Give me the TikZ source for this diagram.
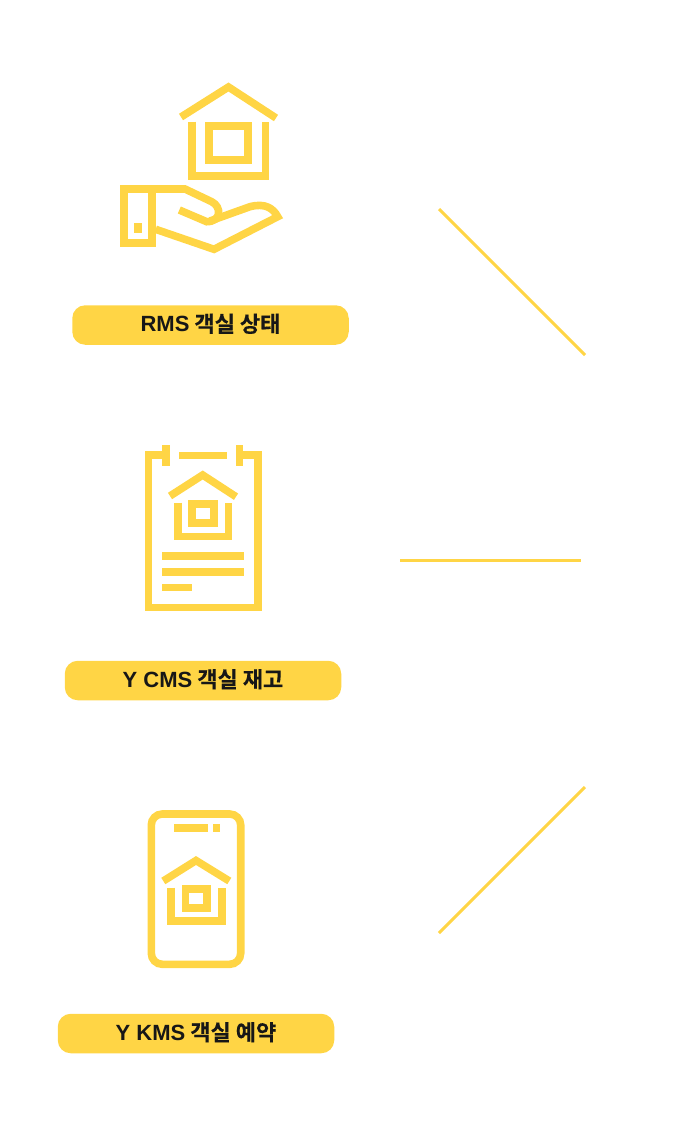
\documentclass[tikz,border=0pt]{standalone}
\usepackage{fontspec}
\setmainfont[BoldFont={Noto Sans CJK KR Bold},BoldFeatures={FakeBold=0.25}]{Noto Sans CJK KR}
\newfontfamily\latinbold{Liberation Sans Bold}
\definecolor{roomyellow}{HTML}{FFD545}
\definecolor{pilltext}{HTML}{171717}
\tikzset{
  iconline/.style={draw=roomyellow, line width=7.6pt, line join=miter},
  linkline/.style={draw=roomyellow, line width=3pt},
  iconbar/.style={fill=roomyellow, draw=none},
  pill/.style={fill=roomyellow, rounded corners=13pt, minimum width=276.5pt, minimum height=39.5pt,
    inner sep=0pt, text=pilltext, font=\fontsize{22pt}{24pt}\bfseries},
}
\begin{document}
\begin{tikzpicture}[x=1pt,y=-1pt]
  \useasboundingbox (0,0) rectangle (674,1136);
  % first icon, house above a hand
  \draw[iconline] (181,117) -- (228.5,87) -- (276,118);
  \draw[iconline] (192,121.7) -- (192,176) -- (265.3,176) -- (265.3,121.7);
  \draw[iconline] (209,126) rectangle (247.7,160);
  \draw[iconline] (124,189) rectangle (151.7,242.7);
  \fill[iconbar] (134,222.7) rectangle (142,232.7);
  \draw[iconline] (151.7,189) -- (185,189) -- (211.7,201.7) .. controls (221.7,206.7) and (221.7,221.7) .. (206.7,221.7) -- (179.3,210);
  \draw[iconline] (210,221) -- (250,206.7) .. controls (265,202.7) and (273.3,208.3) .. (277.7,216.7) -- (214,249.3) -- (155.7,229.3);
  % second icon, clipboard
  \draw[iconline] (162.3,455) -- (148.3,455) -- (148.3,607.3) -- (257.7,607.3) -- (257.7,455) -- (243.3,455);
  \fill[iconbar] (162.3,445) rectangle (170.3,465.7);
  \fill[iconbar] (236,445) rectangle (243.3,465.7);
  \fill[iconbar] (178.7,451.7) rectangle (227.3,459.3);
  \draw[iconline] (170,496) -- (202.7,475) -- (236,496.7);
  \draw[iconline] (177.8,502.7) -- (177.8,536.5) -- (228.5,536.5) -- (228.5,502.7);
  \draw[iconline] (192.2,503.8) rectangle (213.8,523.2);
  \fill[iconbar] (162,552) rectangle (244,559.7);
  \fill[iconbar] (162,568) rectangle (244,575.7);
  \fill[iconbar] (162,583.7) rectangle (192.3,591.3);
  % third icon, phone
  \draw[iconline, rounded corners=11pt] (151.3,814) rectangle (240.7,964.3);
  \fill[iconbar] (174.3,824.3) rectangle (207.7,832.3);
  \fill[iconbar] (213.3,824.3) rectangle (220,832.3);
  \draw[iconline] (163.3,881) -- (196,860.5) -- (229.3,881);
  \draw[iconline] (171,887.7) -- (171,921.2) -- (221.7,921.2) -- (221.7,887.7);
  \draw[iconline] (185.5,889.2) rectangle (207.2,907.8);
  % labels
  \node[pill] (rmsstate) at (210.5,325) {\raisebox{4.5pt}{{\latinbold RMS} 객실 상태}};
  \node[pill] (cmsstock) at (203,680.5) {\raisebox{4.5pt}{{\latinbold Y CMS} 객실 재고}};
  \node[pill] (kmsbook) at (196,1033.5) {\raisebox{4.5pt}{{\latinbold Y KMS} 객실 예약}};
  % lines
  \coordinate (topstart) at (439,209);
  \coordinate (topend) at (585,355);
  \coordinate (midstart) at (400,560);
  \coordinate (midend) at (581,560);
  \coordinate (lowstart) at (439,933);
  \coordinate (lowend) at (585,787);
  \draw[linkline] (topstart) -- (topend);
  \draw[linkline] (midstart) -- (midend);
  \draw[linkline] (lowstart) -- (lowend);
\end{tikzpicture}
\end{document}
